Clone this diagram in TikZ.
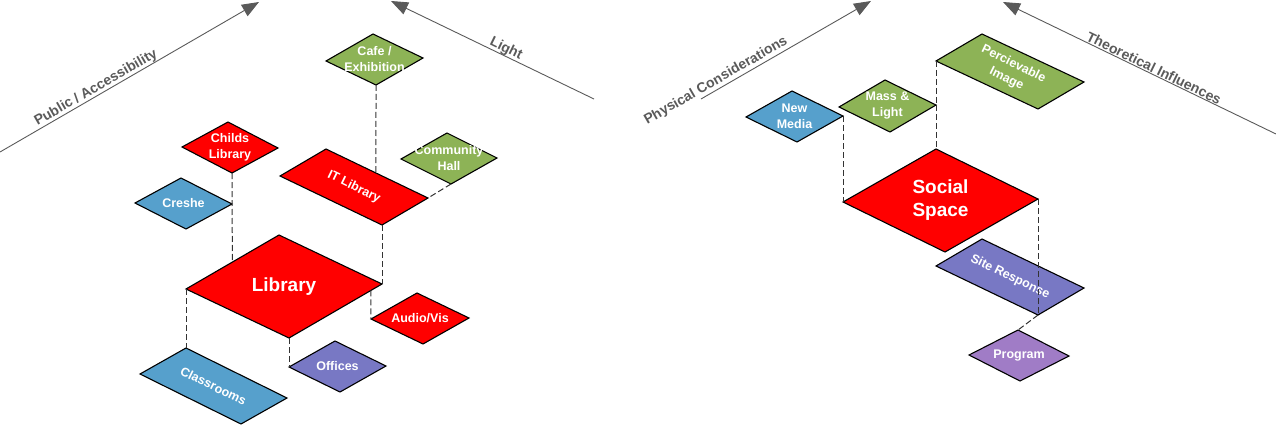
\documentclass[tikz,border=0pt]{standalone}
\usepackage{fontspec}
\setmainfont{Liberation Sans}
\usetikzlibrary{calc,arrows.meta}

\definecolor{libred}{HTML}{FF0000}
\definecolor{sagegreen}{HTML}{8DB356}
\definecolor{skyblue}{HTML}{56A0CC}
\definecolor{slateblue}{HTML}{7878C4}
\definecolor{lilac}{HTML}{A07CC6}
\definecolor{axisgray}{HTML}{5A5A5A}

\tikzset{
  plate/.style={draw=black,line width=1.1pt,line join=miter},
  platetext/.style={text=white,font=\fontsize{12.5}{16}\selectfont\bfseries,align=center,inner sep=0pt},
  bigtext/.style={font=\fontsize{19}{23}\selectfont\bfseries},
  slant/.style={rotate=-26},
  link/.style={draw=black!80,line width=1pt,dash pattern=on 6pt off 3pt},
  axis/.style={draw=axisgray,line width=0.9pt,-{Triangle[length=17pt,width=13pt]}},
  axistext/.style={text=axisgray,font=\fontsize{14}{16}\selectfont\bfseries,inner sep=0pt}
}

% name, fill, left corner, left->top, left->bottom, text options, text
\newcommand{\plate}[7]{%
  \coordinate (#1-l) at (#3);
  \coordinate (#1-t) at ($(#1-l)+(#4)$);
  \coordinate (#1-b) at ($(#1-l)+(#5)$);
  \coordinate (#1-r) at ($(#1-t)+(#5)$);
  \filldraw[plate,fill=#2] (#1-l) -- (#1-t) -- (#1-r) -- (#1-b) -- cycle;
  \node[platetext,#6] (#1) at ($(#1-l)!.5!(#1-r)$) {#7};
}

\begin{document}
\begin{tikzpicture}[x=1pt,y=-1pt]
  \useasboundingbox (0,0) rectangle (1276,425);
  \begin{scope}
    \coordinate (pa-s) at (0,152);
    \coordinate (pa-e) at (259,2);
    \coordinate (li-s) at (594,99);
    \coordinate (li-e) at (391,1);
    \draw[axis] (pa-s) -- (pa-e);
    \draw[axis] (li-s) -- (li-e);
    \node[axistext,rotate=30] (pa) at (96,88) {Public / Accessibility};
    \node[axistext,rotate=-26] (li) at (506,49) {Light};

    \plate{cafe}{sagegreen}{326,61}{47,-27}{50,24}{}{Cafe /\\Exhibition}
    \plate{comm}{sagegreen}{401,159}{46,-26}{50,25}{}{Community\\Hall}
    \plate{childs}{libred}{182,147}{46,-25}{50,26}{}{Childs\\Library}
    \plate{creshe}{skyblue}{135,203}{46,-25}{51,26}{}{Creshe}
    \plate{itlib}{libred}{280,176}{46,-27}{102,49}{slant}{IT Library}
    \plate{lib}{libred}{186,289}{93,-54}{103,49}{bigtext}{Library}
    \plate{audio}{libred}{371,319}{46,-26}{52,25}{}{Audio/Vis}
    \plate{offices}{slateblue}{289,367}{46,-26}{51,25}{}{Offices}
    \plate{class}{skyblue}{140,374}{46,-26}{101,50}{slant}{Classrooms}

    \coordinate (itlib-e) at ($(itlib-t)!.49!(itlib-r)$);
    \coordinate (lib-tl) at ($(lib-l)!.5!(lib-t)$);
    \coordinate (lib-br) at ($(lib-r)!.12!(lib-b)$);
    \draw[link] (cafe-b) -- (itlib-e);
    \draw[link] (comm-b) -- (itlib-r);
    \draw[link] (childs-b) -- (creshe-r) -- (lib-tl);
    \draw[link] (itlib-b) -- (lib-r);
    \draw[link] (lib-l) -- (class-t);
    \draw[link] (lib-b) -- (offices-l);
    \draw[link] (lib-br) -- (audio-l);
  \end{scope}

  \begin{scope}[xshift=636pt]
    \coordinate (pc-s) at (65,99);
    \coordinate (pc-e) at (235,1);
    \coordinate (ti-s) at (640,134);
    \coordinate (ti-e) at (367,2);
    \draw[axis] (pc-s) -- (pc-e);
    \draw[axis] (ti-s) -- (ti-e);
    \node[axistext,rotate=30] (pc) at (80,81) {Physical Considerations};
    \node[axistext,rotate=-26] (ti) at (518,68) {Theoretical Influences};

    \plate{media}{skyblue}{110,117}{46,-26}{51,25}{}{New\\Media}
    \plate{mass}{sagegreen}{203,107}{46,-27}{51,25}{}{Mass \&\\Light}
    \plate{perc}{sagegreen}{300,61}{46,-27}{102,48}{slant}{Percievable\\Image}
    \plate{social}{libred}{207,202}{93,-53}{102,50}{bigtext}{Social\\Space}
    \plate{site}{slateblue}{300,266}{46,-27}{102,49}{slant}{Site Response}
    \plate{program}{lilac}{333,355}{49,-25}{51,26}{}{Program}

    \draw[link] (perc-l) -- (mass-r);
    \draw[link] (mass-r) -- (social-t);
    \draw[link] (media-r) -- (social-l);
    \draw[link] (social-r) -- (site-b);
    \draw[link] (site-b) -- (program-t);
  \end{scope}
\end{tikzpicture}
\end{document}
